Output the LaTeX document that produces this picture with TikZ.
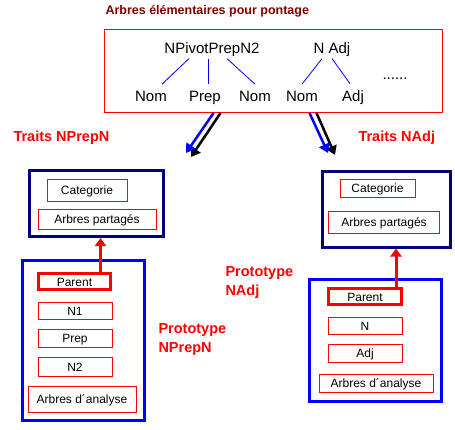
\documentclass[tikz,border=0pt]{standalone}
\usepackage{fontspec}
\setmainfont{Liberation Sans}
\usetikzlibrary{arrows.meta}
\definecolor{cred}{HTML}{FF0000}
\definecolor{cnavy}{HTML}{000080}
\definecolor{cblue}{HTML}{0000FF}
\definecolor{cmaroon}{HTML}{800000}
\tikzset{
  every picture/.style={x=1pt, y=-1pt, line width=1pt},
  frame/.style={draw=#1, line width=3pt, inner sep=0pt},
  frame/.default=cblue,
  slot/.style={draw=cred, line width=1pt, inner sep=0pt, text height=9pt, text depth=0pt, font=\fontsize{12}{14}\selectfont},
  word/.style={anchor=base, inner sep=2pt, font=\fontsize{15}{18}\selectfont},
  tag/.style={text=cred, anchor=base west, inner sep=0pt, align=left, font=\fontsize{14.5}{19}\selectfont\bfseries},
  feed/.style={-{Triangle[length=9pt, width=11pt]}, line width=2.5pt},
  lift/.style={-{Triangle[length=8pt, width=11pt]}, draw=cred, line width=3pt},
}

\begin{document}
\begin{tikzpicture}[
    leaf/.style={word, inner ysep=6pt},
    link/.style={draw=cblue, line width=0.8pt},
    parent/.style={slot, line width=3pt},
  ]
  \useasboundingbox (0,0) rectangle (455,429);

  % elementary trees
  \node[anchor=base west, inner sep=0pt, text=cmaroon, font=\fontsize{12.5}{15}\selectfont\bfseries] (title) at (105,14) {Arbres élémentaires pour pontage};
  \node[draw=cred, line width=1pt, minimum width=338pt, minimum height=83pt, inner sep=0pt] (tree) at (273.5,71) {};
  \node[word] (piv)  at (212,53)  {NPivotPrepN2};
  \node[word] (nadj) at (332,53)  {N Adj};
  \node[leaf] (nom1) at (151,101) {Nom};
  \node[leaf] (prep) at (205,101) {Prep};
  \node[leaf] (nom2) at (255,101) {Nom};
  \node[leaf] (nom3) at (302,101) {Nom};
  \node[leaf] (adj)  at (353,101) {Adj};
  \node[word] (dots) at (395,79)  {......};
  \draw[link] ([xshift=-23pt]piv.south) -- ([xshift=11pt]nom1.north);
  \draw[link] ([xshift=-4pt]piv.south) -- ([xshift=3pt]prep.north);
  \draw[link] ([xshift=15pt]piv.south) -- (nom2.north);
  \draw[link] ([xshift=-10pt]nadj.south) -- (nom3.north);
  \draw[link] (nadj.south) -- ([xshift=-3pt]adj.north);

  % feature sets
  \node[tag] (ltag) at (13,141)  {Traits NPrepN};
  \node[tag] (rtag) at (358,141) {Traits NAdj};
  \node[frame=cnavy, minimum width=134pt, minimum height=66pt] (ltraits) at (96.5,203.5) {};
  \node[frame=cnavy, minimum width=128pt, minimum height=76pt] (rtraits) at (386,209) {};
  \node[slot, minimum width=80pt, minimum height=22pt]  (lcat)    at (87,190)    {Categorie};
  \node[slot, minimum width=118pt, minimum height=20pt] (lshared) at (97,219)    {Arbres partagés};
  \node[slot, minimum width=75pt, minimum height=18pt]  (rcat)    at (377.5,188) {Categorie};
  \node[slot, minimum width=111pt, minimum height=22pt] (rshared) at (384,222)   {Arbres partagés};

  % prototypes
  \node[tag] (lptag) at (158,352) {Prototype\\NPrepN};
  \node[tag] (rptag) at (225,295) {Prototype\\NAdj};
  \node[frame, minimum width=122pt, minimum height=160pt] (lproto) at (83.5,340.5) {};
  \node[frame, minimum width=132pt, minimum height=122pt] (rproto) at (375.5,340.5) {};
  \node[parent, minimum width=72pt, minimum height=16pt]  (lpar)   at (74.5,281.5) {Parent};
  \node[slot, minimum width=74pt, minimum height=17pt]    (ln1)    at (75,310.5)   {N1};
  \node[slot, minimum width=74pt, minimum height=18pt]    (lprep)  at (75,338)     {Prep};
  \node[slot, minimum width=74pt, minimum height=19pt]    (ln2)    at (75,366.5)   {N2};
  \node[slot, minimum width=108pt, minimum height=26pt]   (lparse) at (82,399)     {Arbres d´analyse};
  \node[parent, minimum width=73pt, minimum height=16pt]  (rpar)   at (365,296.5)  {Parent};
  \node[slot, minimum width=74pt, minimum height=17pt]    (rn)     at (365,325.5)  {N};
  \node[slot, minimum width=74pt, minimum height=18pt]    (radj)   at (365,353)    {Adj};
  \node[slot, minimum width=114pt, minimum height=18pt]   (rparse) at (376,383)    {Arbres d´analyse};

  % arrows
  \coordinate (lend)  at (186,153);
  \coordinate (lend2) at (191,157);
  \coordinate (rend)  at (328,153);
  \coordinate (rend2) at (335,155);
  \draw[feed, draw=black] ([xshift=-53pt]tree.south) -- (lend2);
  \draw[feed, draw=cblue] ([xshift=-60pt]tree.south) -- (lend);
  \draw[feed, draw=black] ([xshift=43pt]tree.south) -- (rend2);
  \draw[feed, draw=cblue] ([xshift=36pt]tree.south) -- (rend);
  \draw[lift] ([xshift=26pt]lpar.north) -- ([xshift=26pt]lpar.north |- ltraits.south);
  \draw[lift] ([xshift=31pt]rpar.north) -- ([xshift=31pt]rpar.north |- rtraits.south);
\end{tikzpicture}
\end{document}
